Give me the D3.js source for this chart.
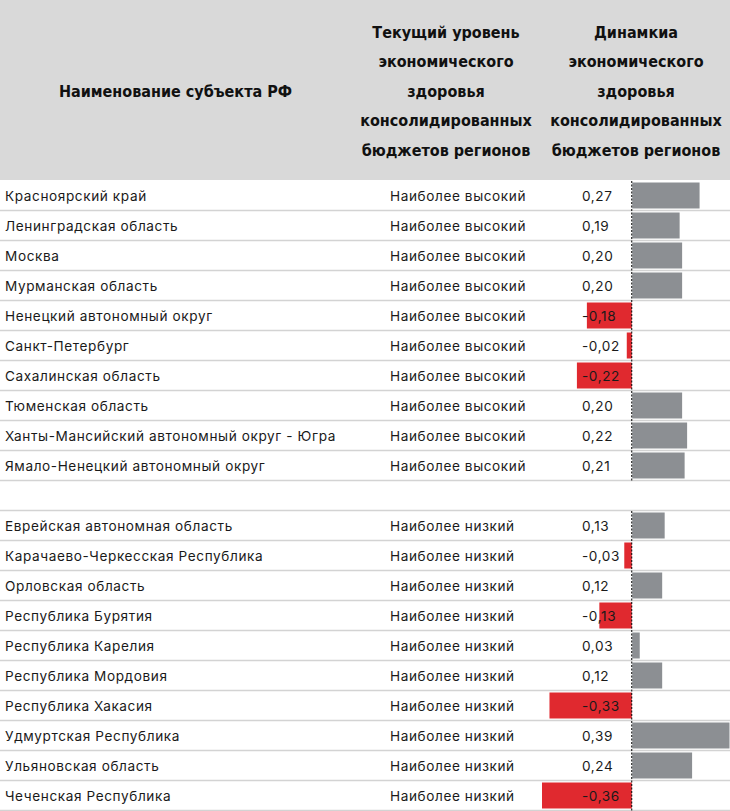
<!DOCTYPE html>
<html><head><meta charset="utf-8">
<script src="https://cdn.jsdelivr.net/npm/d3@7"></script>
<style>body{margin:0;background:#fff}svg{display:block}</style>
</head><body>
<svg id="c" width="730" height="811"></svg>
<script>
const headerCol1 = "Наименование субъекта РФ";
const headerCol2 = ["Текущий уровень","экономического","здоровья","консолидированных","бюджетов регионов"];
const headerCol3 = ["Динамкиа","экономического","здоровья","консолидированных","бюджетов регионов"];
const regions = ["Красноярский край","Ленинградская область","Москва","Мурманская область","Ненецкий автономный округ","Санкт-Петербург","Сахалинская область","Тюменская область","Ханты-Мансийский автономный округ - Югра","Ямало-Ненецкий автономный округ","",
"Еврейская автономная область","Карачаево-Черкесская Республика","Орловская область","Республика Бурятия","Республика Карелия","Республика Мордовия","Республика Хакасия","Удмуртская Республика","Ульяновская область","Чеченская Республика"];
const levels = ["Наиболее высокий","Наиболее высокий","Наиболее высокий","Наиболее высокий","Наиболее высокий","Наиболее высокий","Наиболее высокий","Наиболее высокий","Наиболее высокий","Наиболее высокий","",
"Наиболее низкий","Наиболее низкий","Наиболее низкий","Наиболее низкий","Наиболее низкий","Наиболее низкий","Наиболее низкий","Наиболее низкий","Наиболее низкий","Наиболее низкий"];
const values = [0.27,0.19,0.20,0.20,-0.18,-0.02,-0.22,0.20,0.22,0.21,null,
0.13,-0.03,0.12,-0.13,0.03,0.12,-0.33,0.39,0.24,-0.36];

const W = 730, H = 811, headerH = 181;
const svg = d3.select("#c");
const rows = regions.map((r,i)=>({region:r, level:levels[i], value:values[i], i}));

const y = d3.scaleBand().domain(rows.map(d=>d.i)).range([headerH, H]).padding(0);
const x = d3.scaleLinear().domain([-0.36, 0.39]).range([542, 729]);
const fmt = v => d3.format(".2f")(v).replace(".", ",").replace("−","-");

// header
svg.append("rect").attr("x",0).attr("y",0).attr("width",W).attr("height",headerH-1).attr("fill","#d9d9d9");
const hf = "'DejaVu Sans Condensed', 'DejaVu Sans', sans-serif";
const hs = 16;
svg.append("text").attr("x",175.5).attr("y",91).attr("text-anchor","middle").attr("dominant-baseline","central")
  .attr("font-family",hf).attr("font-weight","bold").attr("font-size",hs).attr("fill","#111").text(headerCol1);
const lineY = d3.scaleLinear().domain([0,4]).range([32,150]);
svg.selectAll("text.h2").data(headerCol2).join("text").attr("class","h2")
  .attr("x",446).attr("y",(d,i)=>lineY(i)).attr("text-anchor","middle").attr("dominant-baseline","central")
  .attr("font-family",hf).attr("font-weight","bold").attr("font-size",hs).attr("fill","#111").text(d=>d);
svg.selectAll("text.h3").data(headerCol3).join("text").attr("class","h3")
  .attr("x",636).attr("y",(d,i)=>lineY(i)).attr("text-anchor","middle").attr("dominant-baseline","central")
  .attr("font-family",hf).attr("font-weight","bold").attr("font-size",hs).attr("fill","#111").text(d=>d);

// separators
svg.selectAll("line.sep").data(rows).join("line").attr("class","sep")
  .attr("x1",0).attr("x2",W).attr("y1",d=>y(d.i)+y.bandwidth()-0.5).attr("y2",d=>y(d.i)+y.bandwidth()-0.5)
  .attr("stroke","#d3d3d3").attr("stroke-width",1.5);

const data = rows.filter(d=>d.value!==null);
// bars
svg.selectAll("rect.bar").data(data).join("rect").attr("class","bar")
  .attr("x",d=>Math.min(x(0),x(d.value))+(d.value>0?0.5:0))
  .attr("width",d=>Math.abs(x(d.value)-x(0)))
  .attr("y",d=>y(d.i)+1.5).attr("height",y.bandwidth()-4)
  .attr("fill",d=>d.value<0?"#e0292f":"#8c8f93");

// zero line per group
const groups = [[0,9],[11,20]];
svg.selectAll("line.zero").data(groups).join("line").attr("class","zero")
  .attr("x1",x(0)).attr("x2",x(0)).attr("y1",g=>y(g[0])).attr("y2",g=>y(g[1])+y.bandwidth())
  .attr("stroke","#000").attr("stroke-width",1).attr("stroke-dasharray","2,1.5");

const bf = "Inter, 'Noto Sans', sans-serif";
const tc = "#1a1a1a";
const bs = 13.6, ls = 0.6;
svg.selectAll("text.reg").data(rows).join("text").attr("class","reg")
  .attr("x",5).attr("y",d=>y(d.i)+y.bandwidth()/2).attr("dominant-baseline","central")
  .attr("font-family",bf).attr("font-size",bs).attr("letter-spacing",ls).attr("fill",tc).text(d=>d.region);
svg.selectAll("text.lev").data(rows).join("text").attr("class","lev")
  .attr("x",390).attr("y",d=>y(d.i)+y.bandwidth()/2).attr("dominant-baseline","central")
  .attr("font-family",bf).attr("font-size",bs).attr("letter-spacing",ls).attr("fill",tc).text(d=>d.level);
svg.selectAll("text.val").data(data).join("text").attr("class","val")
  .attr("x",582).attr("y",d=>y(d.i)+y.bandwidth()/2).attr("dominant-baseline","central")
  .attr("font-family",bf).attr("font-size",bs).attr("letter-spacing",ls).attr("fill",tc).text(d=>fmt(d.value));
</script>
</body></html>
